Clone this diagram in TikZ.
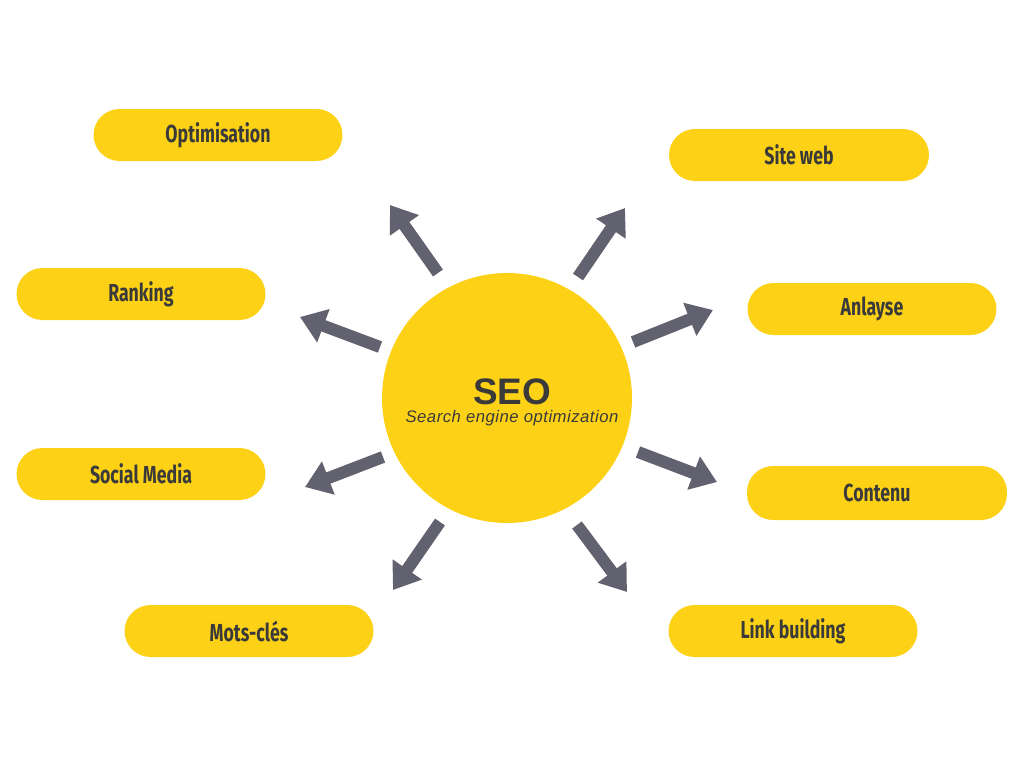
\documentclass[tikz,border=0pt]{standalone}
\usepackage{fontspec}
\setsansfont{Liberation Sans}
\newfontfamily\pillfont[FakeStretch=0.72]{Fira Sans}
\usetikzlibrary{arrows.meta, positioning}
\definecolor{cyellow}{HTML}{FCD116}
\definecolor{cslate}{HTML}{62616F}
\definecolor{cink}{HTML}{3A3A3A}
\tikzset{
  every picture/.style={font=\sffamily},
  pill/.style={fill=cyellow, rounded corners=0.52cm, minimum width=4.98cm, minimum height=1.04cm, text=cink, font=\pillfont\bfseries\fontsize{14}{16}\selectfont},
  arrow/.style={-{Triangle[length=0.5cm, width=0.68cm]}, draw=cslate, line width=0.24cm},
}

\begin{document}
\begin{tikzpicture}[x=0.02cm, y=-0.02cm]
  \useasboundingbox (0,0) rectangle (1024,768);

  % centre
  \node[circle, fill=cyellow, minimum size=5cm, inner sep=0pt] (seo) at (507,398) {};
  \node[font=\sffamily\bfseries\fontsize{21}{24}\selectfont, text=cink] (seot) at (512,392) {SEO};
  \node[font=\sffamily\itshape\fontsize{9.5}{11}\selectfont\addfontfeature{LetterSpace=3}, text=cink, inner sep=0pt] (seos) at (512,418) {Search engine optimization};

  % topics
  \node[pill] (opt) at (218,135) {Optimisation};
  \node[pill, minimum width=5.2cm] (site) at (799,155) {Site web};
  \node[pill] (rank) at (141,294) {Ranking};
  \node[pill] (anl) at (872,309) {Anlayse};
  \node[pill] (soc) at (141,474) {Social Media};
  \node[pill, minimum width=5.2cm, minimum height=1.08cm] (cont) at (877,493) {Contenu};
  \node[pill] (mots) at (249,631) {Mots-clés};
  \node[pill] (link) at (793,631) {Link building};

  % arrows
  \coordinate (a1) at (438,273); \coordinate (b1) at (390,205);
  \coordinate (a2) at (578,277); \coordinate (b2) at (625,208);
  \coordinate (a3) at (380,347); \coordinate (b3) at (300,317);
  \coordinate (a4) at (633,342); \coordinate (b4) at (713,310);
  \coordinate (a5) at (383,457); \coordinate (b5) at (305,487);
  \coordinate (a6) at (638,452); \coordinate (b6) at (717,482);
  \coordinate (a7) at (440,522); \coordinate (b7) at (393,590);
  \coordinate (a8) at (577,525); \coordinate (b8) at (627,592);
  \foreach \i in {1,...,8} \draw[arrow] (a\i) -- (b\i);
\end{tikzpicture}
\end{document}
